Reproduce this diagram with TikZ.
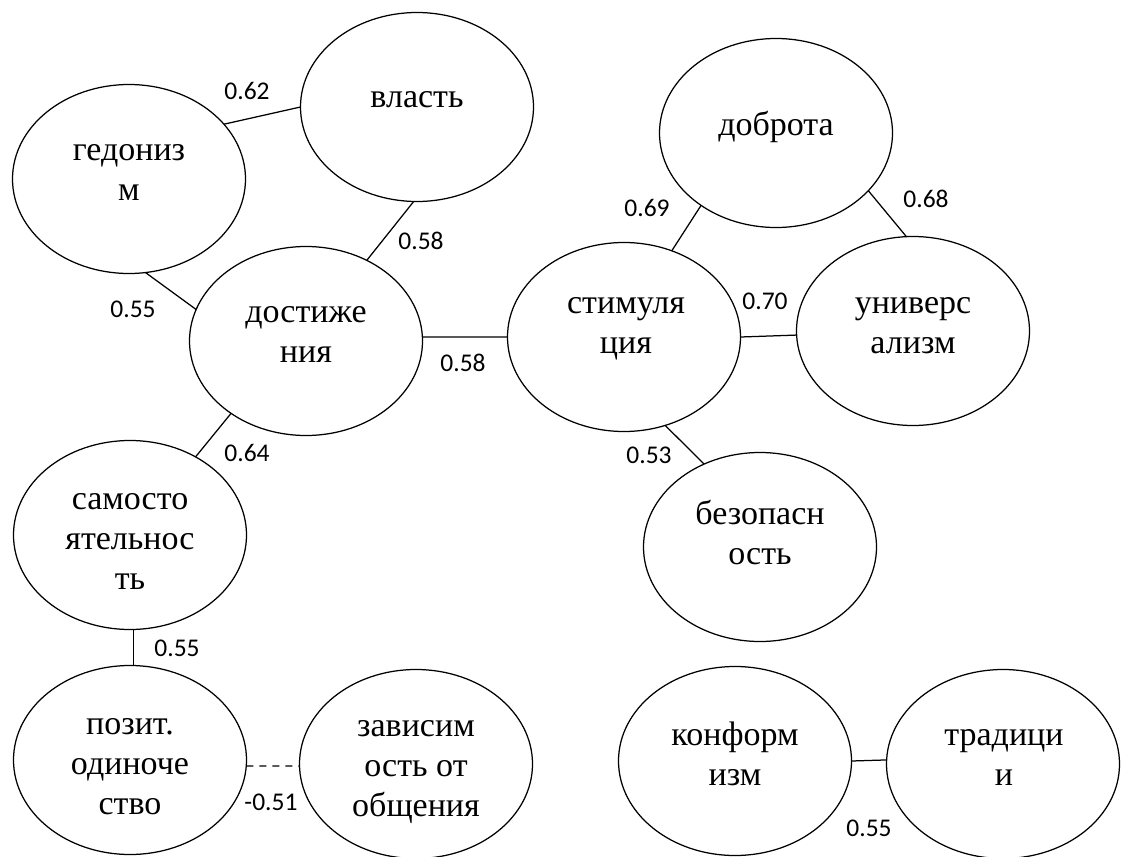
\documentclass[tikz,border=0pt]{standalone}
\usepackage{fontspec}
\setmainfont{Liberation Serif}
\newfontfamily\lblfont{Carlito}
\usetikzlibrary{shapes.geometric}
\begin{document}
\begin{tikzpicture}[x=1pt,y=-1pt,
  ell/.style={draw, ellipse, line width=1.25pt, minimum width=233pt, minimum height=189pt, inner sep=0pt, outer sep=0pt},
  txt/.style={align=center, font=\fontsize{34}{40}\selectfont, inner sep=0pt},
  lbl/.style={font=\lblfont\fontsize{25.5}{28}\selectfont, inner sep=0pt},
  con/.style={line width=1.25pt},
  neg/.style={con, dash pattern=on 7pt off 6pt}]
\useasboundingbox[fill=white] (0,0) rectangle (1125,857);
% ellipses
\node[ell] (ged) at (129,179) {};
\node[ell] (vl) at (417,107) {};
\node[ell] (dost) at (306,341) {};
\node[ell] (stim) at (624,337) {};
\node[ell] (dobr) at (776,133) {};
\node[ell] (univ) at (913,331) {};
\node[ell] (bez) at (760,547) {};
\node[ell] (sam) at (130,535) {};
\node[ell] (poz) at (130,760) {};
\node[ell] (zav) at (416,764) {};
\node[ell] (konf) at (735,761) {};
\node[ell] (trad) at (1003,764) {};
% texts
\node[txt] (tged) at (129,172) {гедониз\\м};
\node[txt] (tvl) at (417,100) {власть};
\node[txt] (tdost) at (306,334) {достиже\\ния};
\node[txt] (tstim) at (626,329) {стимуля\\ция};
\node[txt] (tdobr) at (776,127) {доброта};
\node[txt] (tuniv) at (913,326) {универс\\ализм};
\node[txt] (tbez) at (760,532) {безопасн\\ость};
\node[txt] (tsam) at (130,541) {самосто\\ятельнос\\ть};
\node[txt] (tpoz) at (130,767) {позит.\\одиноче\\ство};
\node[txt] (tzav) at (416,772) {зависим\\ость от\\общения};
\node[txt] (tkonf) at (735,754) {конформ\\изм};
\node[txt] (ttrad) at (1004,757) {традици\\и};
% connectors
\draw[con] (ged.30) -- (vl.180);
\draw[con] (vl.268) -- (dost.53);
\draw[con] (ged.-80) -- (dost.164);
\draw[con] (dost.2) -- (stim.180);
\draw[con] (dobr.224) -- (stim.61);
\draw[con] (dobr.-32) -- (univ.94);
\draw[con] (stim.0) -- (univ.182);
\draw[con] (stim.-65) -- (bez.124);
\draw[con] (dost.224) -- (sam.50);
\draw[con] (sam.272) -- (poz.88);
\draw[neg] (poz.-3) -- (zav.181);
\draw[con] (konf.0) -- (trad.178);
% labels
\node[lbl] (l1) at (247,91) {0.62};
\node[lbl] (l2) at (421,241) {0.58};
\node[lbl] (l3) at (133,309) {0.55};
\node[lbl] (l4) at (463,363) {0.58};
\node[lbl] (l5) at (647,208) {0.69};
\node[lbl] (l6) at (926,199) {0.68};
\node[lbl] (l7) at (765,301) {0.70};
\node[lbl] (l8) at (649,455) {0.53};
\node[lbl] (l9) at (247,453) {0.64};
\node[lbl] (l10) at (177,648) {0.55};
\node[lbl] (l11) at (271,802) {-0.51};
\node[lbl] (l12) at (869,828) {0.55};
\end{tikzpicture}
\end{document}
